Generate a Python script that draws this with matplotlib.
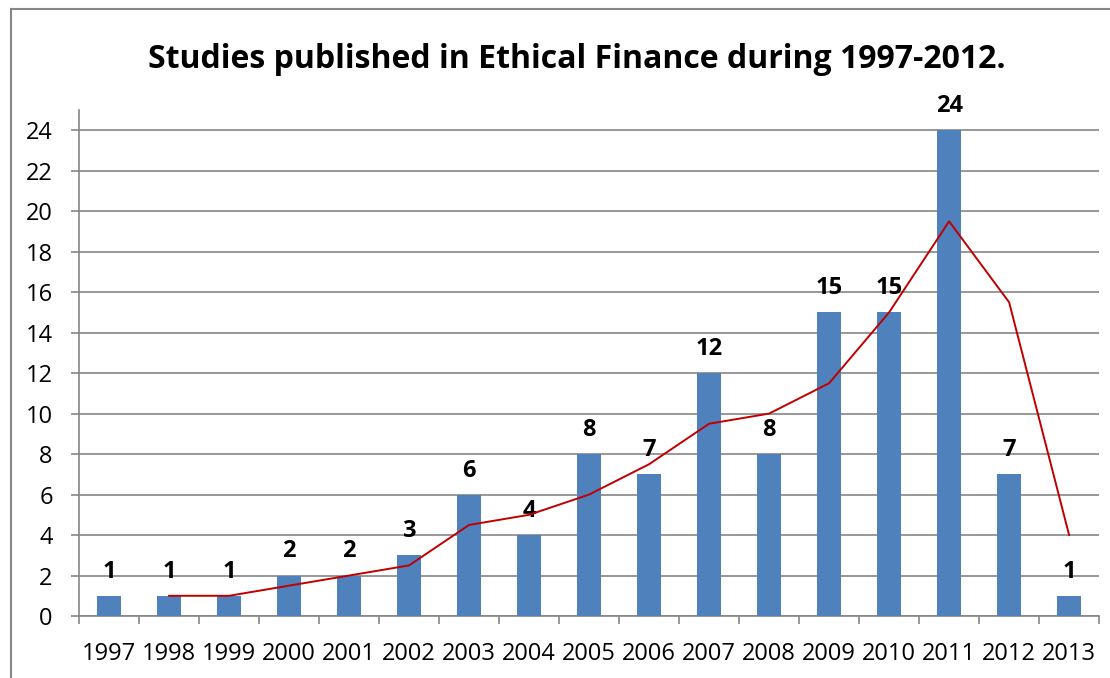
import numpy as np
import matplotlib
matplotlib.use("Agg")
import matplotlib.pyplot as plt
from matplotlib.lines import Line2D

plt.rcParams['font.family'] = ['Open Sans', 'DejaVu Sans']

# ---- data ----
years = ["1997", "1998", "1999", "2000", "2001", "2002", "2003", "2004", "2005",
         "2006", "2007", "2008", "2009", "2010", "2011", "2012", "2013"]
studies = [1, 1, 1, 2, 2, 3, 6, 4, 8, 7, 12, 8, 15, 15, 24, 7, 1]
# red trend line (2-period moving average), starts at 1998
trend_years = years[1:]
trend = [1, 1, 1.5, 2, 2.5, 4.5, 5, 6, 7.5, 9.5, 10, 11.5, 15, 19.5, 15.5, 4]

fig = plt.figure(figsize=(11.1, 6.78), dpi=100)
ax = fig.add_axes([0.0712, 0.0914, 0.919, 0.7464])

x = np.arange(len(years))
ax.bar(x, studies, width=0.4, color="#4F81BD", zorder=3)
tx = np.arange(1, len(years))
ax.plot(tx, trend, color="#C00000", lw=1.4, zorder=4)

for xi, v in zip(x, studies):
    ax.annotate(str(v), (xi, v), xytext=(0, 13), textcoords="offset points",
                ha="center", va="baseline", fontsize=17, fontweight="bold")

ax.set_xlim(-0.5, len(years) - 0.5)
ax.set_ylim(0, 25)
ax.set_yticks(range(0, 25, 2))
ax.yaxis.grid(True, color="#868686", lw=1.2, zorder=0)
ax.set_axisbelow(True)

# x ticks between categories, labels centred under bars
ax.set_xticks(np.arange(-0.5, len(years), 1))
ax.set_xticklabels([])
ax.set_xticks(x, minor=True)
ax.set_xticklabels(years, minor=True)
ax.tick_params(axis="x", which="minor", length=0, pad=19, labelsize=17)
ax.tick_params(axis="x", which="major", length=6, color="#868686", width=1.2)
ax.tick_params(axis="y", length=6, color="#868686", width=1.2, labelsize=17, pad=13)

for s in ["top", "right"]:
    ax.spines[s].set_visible(False)
for s in ["left", "bottom"]:
    ax.spines[s].set_color("#868686")
    ax.spines[s].set_linewidth(1.2)

fig.text(0.52, 0.912, "Studies published in Ethical Finance during 1997-2012.",
         ha="center", va="center", fontsize=23, fontweight="bold")

# outer chart border (left and top only visible)
fig.add_artist(Line2D([0.0095, 0.0095], [0, 0.986], color="#868686", lw=1.5))
fig.add_artist(Line2D([0.0095, 1.0], [0.986, 0.986], color="#868686", lw=1.5))

fig.savefig("out.png", dpi=100)
